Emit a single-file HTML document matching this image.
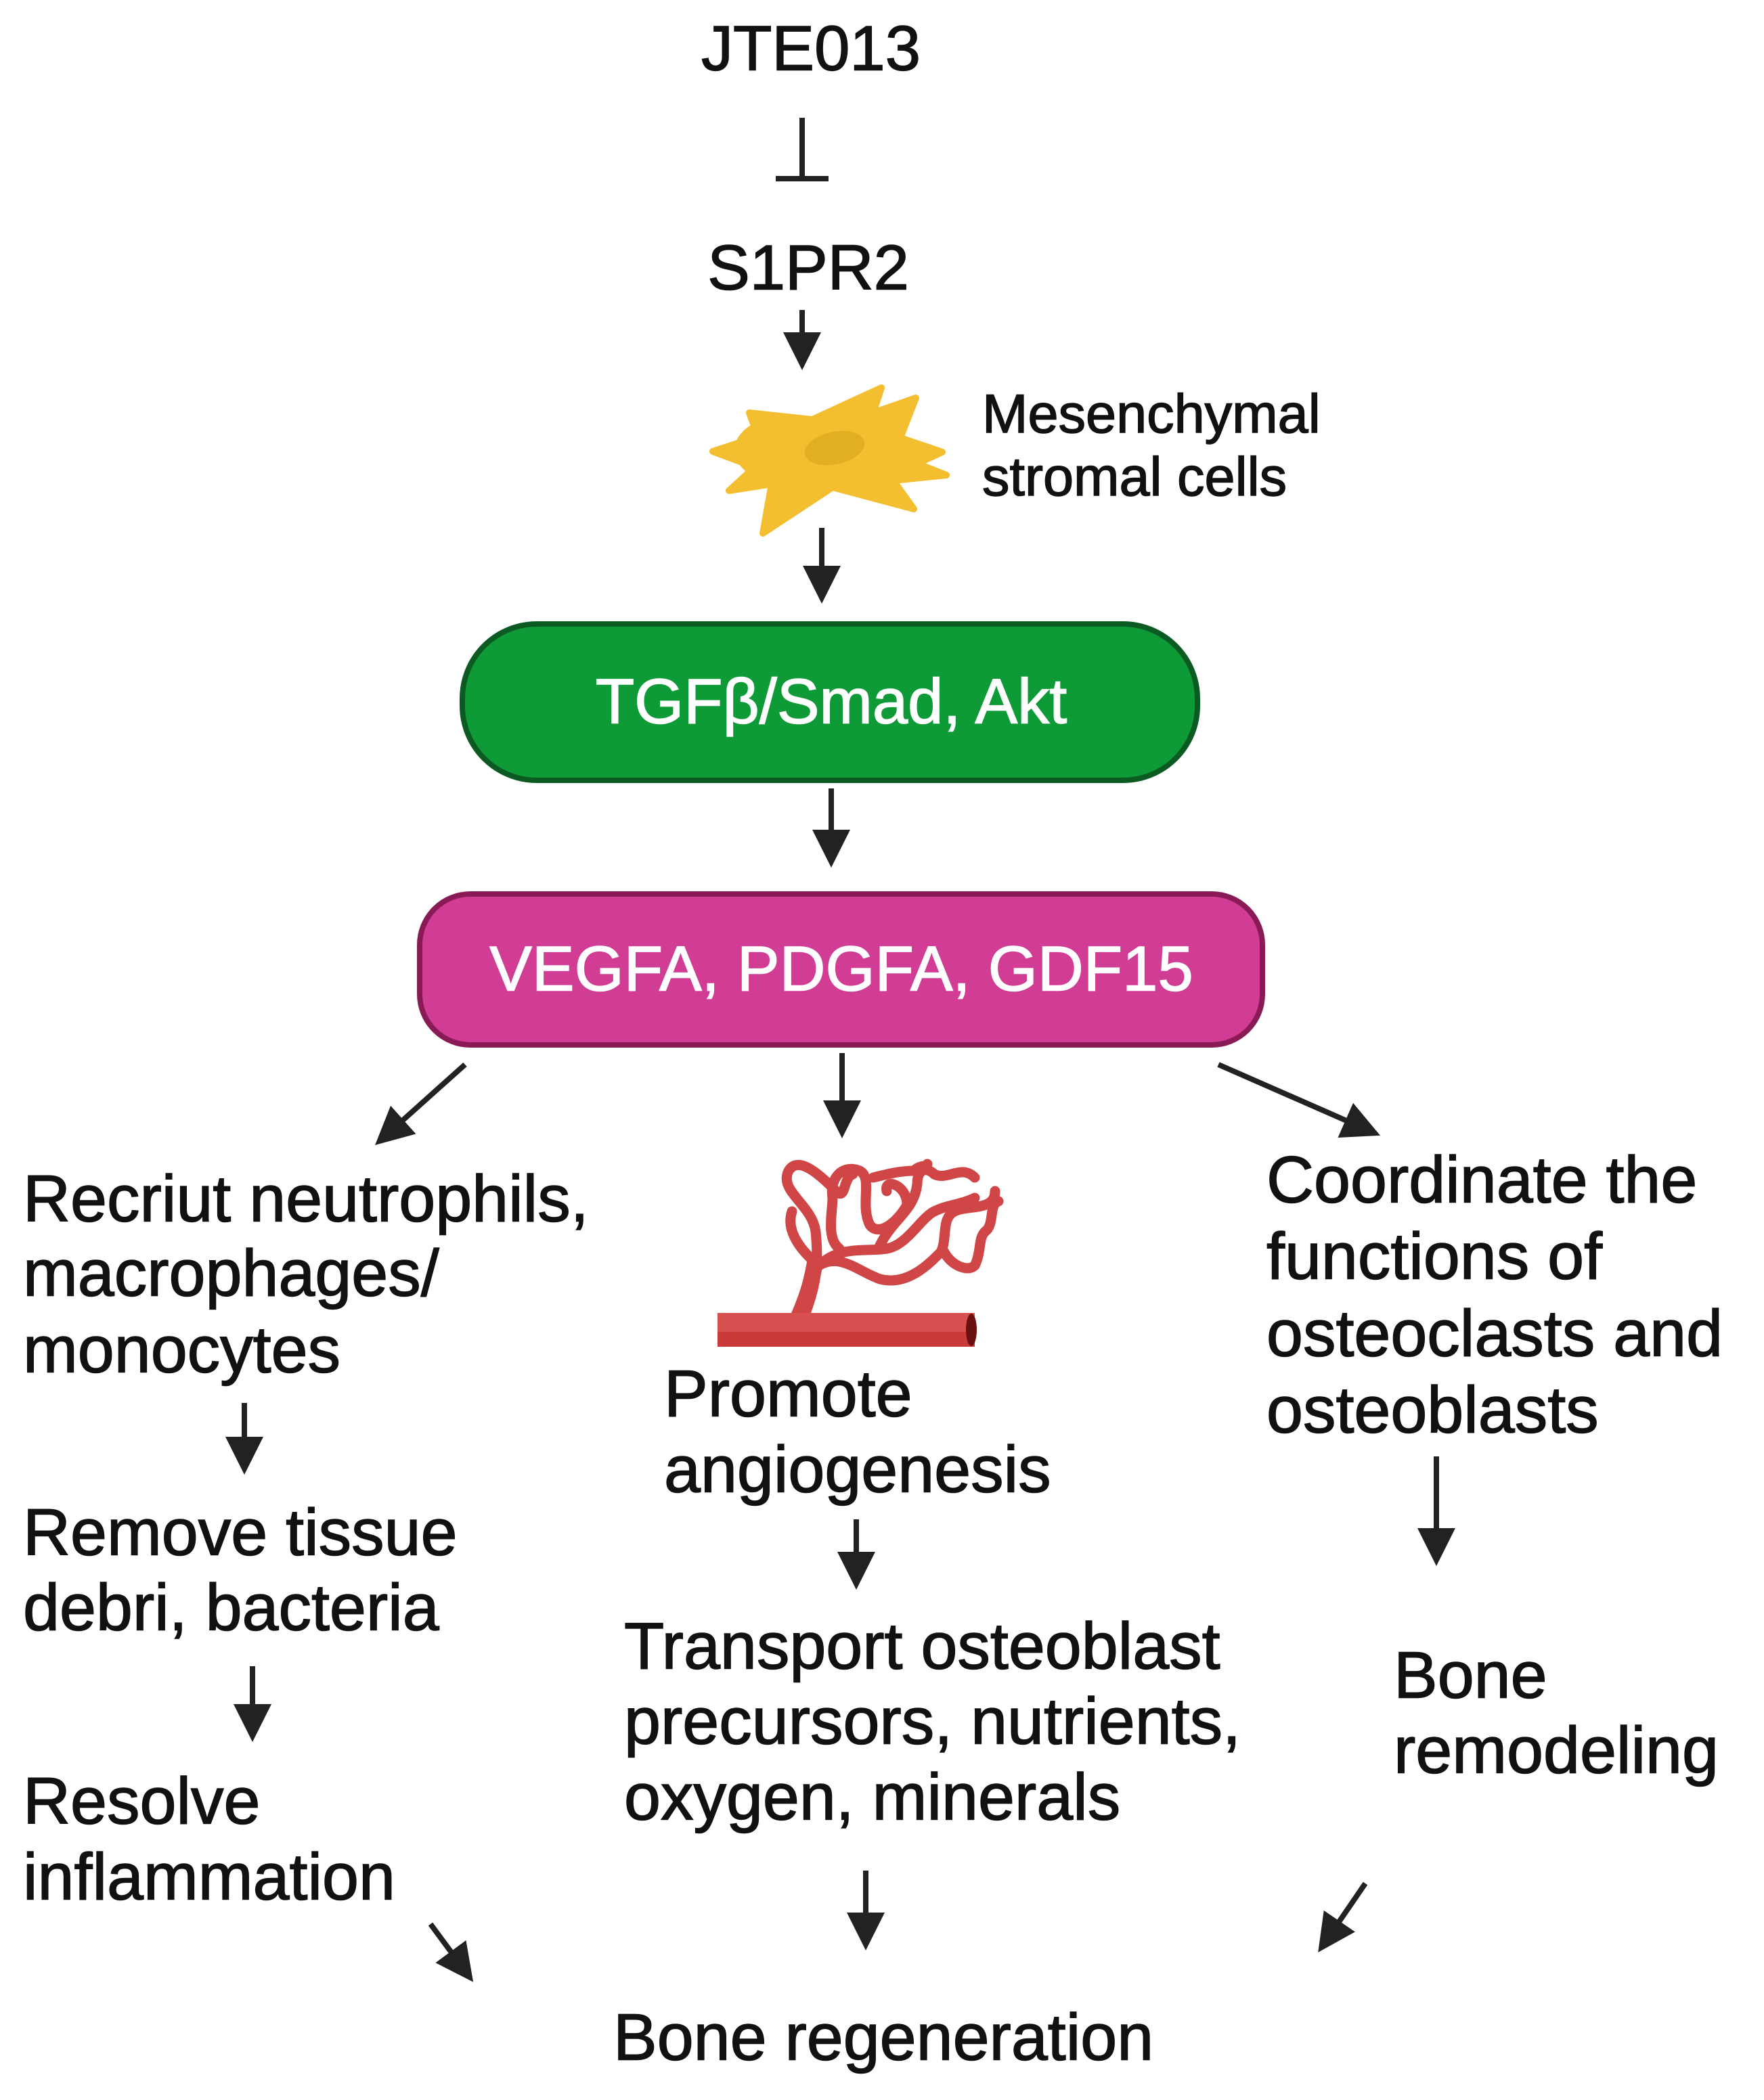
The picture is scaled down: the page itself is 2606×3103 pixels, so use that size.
<!DOCTYPE html>
<html><head><meta charset="utf-8"><style>
html,body{margin:0;padding:0;background:#fff;}
svg{display:block;}
text{font-family:"Liberation Sans",sans-serif;fill:#111;stroke:#111;stroke-width:1.5;}
</style></head><body>
<svg width="2606" height="3103" viewBox="0 0 2606 3103" xmlns="http://www.w3.org/2000/svg">
<defs>
<marker id="ah" markerWidth="7" markerHeight="7" refX="5.5" refY="3.5" orient="auto" markerUnits="strokeWidth">
<path d="M0,0 L7,3.5 L0,7 Z" fill="#222"/>
</marker>
</defs>
<g font-size="94">
<text x="1198" y="71" text-anchor="middle" dominant-baseline="central">JTE013</text>
<text x="1194" y="395" text-anchor="middle" dominant-baseline="central">S1PR2</text>
</g>
<line x1="1185" y1="174" x2="1185" y2="264" stroke="#222" stroke-width="8"/>
<line x1="1146" y1="264" x2="1224" y2="264" stroke="#222" stroke-width="8"/>
<g stroke="#222" stroke-width="8" marker-end="url(#ah)" fill="none">
<line x1="1185" y1="458" x2="1185" y2="535"/>
<line x1="1214" y1="780" x2="1214" y2="880"/>
<line x1="1228" y1="1165" x2="1228" y2="1270"/>
<line x1="687" y1="1573" x2="563" y2="1684"/>
<line x1="1244" y1="1556" x2="1244" y2="1670"/>
<line x1="1800" y1="1573" x2="2028" y2="1673"/>
<line x1="361" y1="2073" x2="361" y2="2167"/>
<line x1="373" y1="2462" x2="373" y2="2562"/>
<line x1="636" y1="2843" x2="692" y2="2919"/>
<line x1="1265" y1="2245" x2="1265" y2="2337"/>
<line x1="1279" y1="2764" x2="1279" y2="2870"/>
<line x1="2122" y1="2152" x2="2122" y2="2302"/>
<line x1="2017" y1="2783" x2="1954" y2="2875"/>
</g>
<!-- cell -->
<path d="M1120,645 L1107,610 L1200,620 L1302,573 L1290,610 L1353,588 L1330,647 L1392,668 L1355,685 L1398,702 L1320,710 L1350,752 L1230,720 L1127,788 L1140,715 L1077,725 L1115,690 L1053,667 Z" fill="#f3bf30" stroke="#f3bf30" stroke-width="10" stroke-linejoin="round"/>
<ellipse cx="1160" cy="665" rx="75" ry="50" fill="#f3bf30"/>
<ellipse cx="1250" cy="690" rx="80" ry="35" fill="#f3bf30"/>
<ellipse cx="1233" cy="662" rx="45" ry="24" fill="#e2ae22" transform="rotate(-12 1233 662)"/>
<g font-size="81">
<text x="1451" y="612" dominant-baseline="central">Mesenchymal</text>
<text x="1451" y="705" dominant-baseline="central">stromal cells</text>
</g>
<!-- boxes -->
<rect x="683" y="922" width="1086" height="231" rx="110" fill="#0e9a36" stroke="#0b5a22" stroke-width="8"/>
<text x="1228" y="1036" text-anchor="middle" dominant-baseline="central" font-size="94" style="fill:#fff;stroke:#fff">TGFβ/Smad, Akt</text>
<rect x="620" y="1321" width="1245" height="223" rx="75" fill="#d13c95" stroke="#8a1a56" stroke-width="8"/>
<text x="1243" y="1431" text-anchor="middle" dominant-baseline="central" font-size="94" style="fill:#fff;stroke:#fff">VEGFA, PDGFA, GDF15</text>
<!-- vessel -->
<g fill="none" stroke="#d04545" stroke-width="15" stroke-linecap="round" stroke-linejoin="round">
<path d="M1190,1940 C1205,1900 1210,1870 1205,1820 C1200,1780 1150,1760 1165,1730 C1180,1705 1215,1740 1235,1760 C1250,1775 1245,1740 1260,1735"/>
<path d="M1210,1870 C1240,1840 1280,1850 1310,1845 C1340,1840 1360,1800 1380,1790 C1400,1780 1420,1780 1440,1770"/>
<path d="M1210,1870 C1240,1850 1270,1880 1300,1890 C1340,1900 1370,1870 1390,1850 C1400,1830 1390,1800 1410,1790 C1430,1780 1470,1790 1470,1760"/>
<path d="M1240,1845 C1220,1830 1230,1790 1230,1770 C1225,1740 1245,1720 1270,1730 C1290,1740 1270,1780 1285,1810 C1300,1830 1330,1800 1340,1780 C1340,1750 1305,1740 1310,1760"/>
<path d="M1300,1840 C1320,1800 1350,1790 1355,1750 C1355,1725 1370,1725 1380,1735 C1400,1745 1420,1720 1440,1740"/>
<path d="M1290,1740 C1310,1735 1330,1730 1350,1730 C1360,1720 1370,1725 1370,1720"/>
<path d="M1395,1850 C1405,1870 1430,1880 1440,1870 C1450,1850 1445,1830 1455,1820 C1470,1810 1460,1780 1475,1775"/>
<path d="M1210,1870 C1185,1850 1160,1820 1170,1790"/>
</g>
<path d="M1180,1945 C1195,1910 1200,1890 1205,1860" stroke="#d04545" stroke-width="24" fill="none"/>
<rect x="1060" y="1940" width="380" height="50" fill="#c93a3a"/>
<rect x="1060" y="1940" width="380" height="28" fill="#d65050"/>
<ellipse cx="1435" cy="1965" rx="8" ry="24" fill="#6b1010"/>
<!-- texts -->
<g font-size="97">
<text x="34" y="1771" dominant-baseline="central">Recriut neutrophils,</text>
<text x="34" y="1881" dominant-baseline="central">macrophages/</text>
<text x="34" y="1994" dominant-baseline="central">monocytes</text>
<text x="34" y="2264" dominant-baseline="central">Remove tissue</text>
<text x="34" y="2375" dominant-baseline="central">debri, bacteria</text>
<text x="34" y="2661" dominant-baseline="central">Resolve</text>
<text x="34" y="2773" dominant-baseline="central">inflammation</text>
<text x="981" y="2059" dominant-baseline="central">Promote</text>
<text x="981" y="2171" dominant-baseline="central">angiogenesis</text>
<text x="922" y="2432" dominant-baseline="central">Transport osteoblast</text>
<text x="922" y="2543" dominant-baseline="central">precursors, nutrients,</text>
<text x="922" y="2655" dominant-baseline="central">oxygen, minerals</text>
<text x="906" y="3010" dominant-baseline="central">Bone regeneration</text>
<text x="1871" y="1743" dominant-baseline="central">Coordinate the</text>
<text x="1871" y="1856" dominant-baseline="central">functions of</text>
<text x="1871" y="1970" dominant-baseline="central">osteoclasts and</text>
<text x="1871" y="2083" dominant-baseline="central">osteoblasts</text>
<text x="2059" y="2475" dominant-baseline="central">Bone</text>
<text x="2059" y="2586" dominant-baseline="central">remodeling</text>
</g>
</svg>
</body></html>
